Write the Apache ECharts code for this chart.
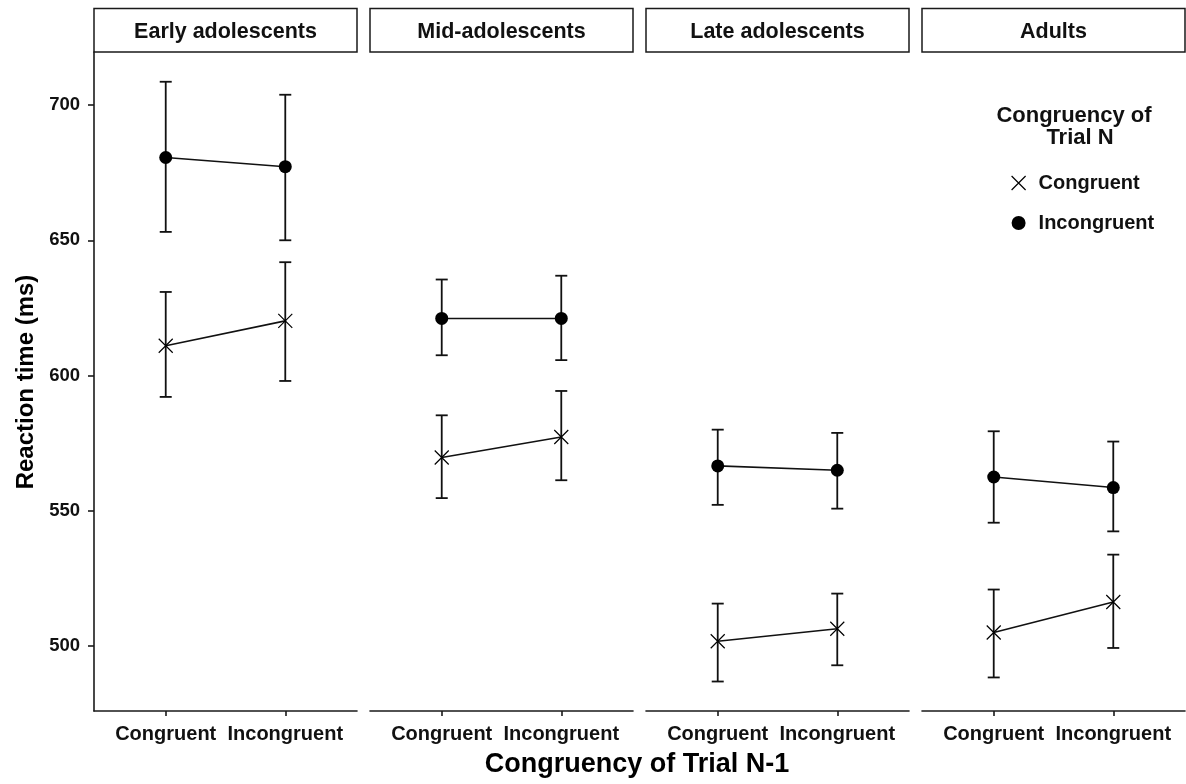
<!DOCTYPE html>
<html>
<head>
<meta charset="utf-8">
<script src="https://cdn.jsdelivr.net/npm/echarts@6/dist/echarts.min.js"></script>
<style>html,body{margin:0;padding:0;background:#fff;}#c{width:1186px;height:784px;}</style>
</head>
<body>
<div id="c"></div>
<script>
// ---- data ----
var groups = ['Early adolescents', 'Mid-adolescents', 'Late adolescents', 'Adults'];
var prevCats = ['Congruent', 'Incongruent'];
var yTicks = [500, 550, 600, 650, 700];
// Congruent trial N (cross)
var congMean = [[611.0, 620.2], [569.7, 577.3], [501.8, 506.4], [505.0, 516.3]];
var congLow  = [[592.1, 598.0], [554.7, 561.3], [486.9, 492.9], [488.4, 499.3]];
var congHigh = [[630.9, 641.9], [585.3, 594.3], [515.7, 519.4], [520.9, 533.8]];
// Incongruent trial N (dot)
var incMean = [[680.6, 677.2], [621.1, 621.1], [566.6, 565.0], [562.5, 558.6]];
var incLow  = [[653.1, 650.0], [607.5, 605.7], [552.2, 550.8], [545.6, 542.4]];
var incHigh = [[708.6, 703.8], [635.5, 636.9], [580.0, 578.8], [579.4, 575.6]];

// ---- layout ----
var FONT = 'Liberation Sans';
var panelLeft = 94, panelW = 263, panelGap = 13, panelTop = 52, panelBottom = 711;
var crossPath = 'path://M0,0L10,10M10,0L0,10';
var AX = '#1a1a1a';

var grids = [], xAxes = [], yAxes = [], series = [], graphics = [];

function errRender(params, api) {
  var x = api.value(0);
  var lo = api.coord([x, api.value(1)]);
  var hi = api.coord([x, api.value(2)]);
  var w = 6;
  var st = { stroke: '#111', lineWidth: 1.8 };
  return {
    type: 'group',
    children: [
      { type: 'line', shape: { x1: lo[0], y1: lo[1], x2: hi[0], y2: hi[1] }, style: st },
      { type: 'line', shape: { x1: lo[0] - w, y1: lo[1], x2: lo[0] + w, y2: lo[1] }, style: st },
      { type: 'line', shape: { x1: hi[0] - w, y1: hi[1], x2: hi[0] + w, y2: hi[1] }, style: st }
    ]
  };
}

groups.forEach(function (g, i) {
  var left = panelLeft + i * (panelW + panelGap);
  grids.push({ left: left, top: panelTop, width: panelW, height: panelBottom - panelTop, containLabel: false });
  xAxes.push({
    type: 'value', gridIndex: i, min: 0.4, max: 2.6,
    splitLine: { show: false },
    axisLine: { show: true, lineStyle: { color: AX, width: 1.6 } },
    axisTick: { show: true, customValues: [1, 2], length: 5, lineStyle: { color: AX, width: 1.6 } },
    axisLabel: {
      customValues: [1, 2], margin: 13,
      formatter: function (v) { return prevCats[Math.round(v) - 1]; },
      fontFamily: FONT, fontWeight: 'bold', fontSize: 20, color: '#111'
    }
  });
  yAxes.push({
    type: 'value', gridIndex: i, min: 476, max: 719.6,
    show: i === 0,
    splitLine: { show: false },
    axisLine: { show: true, lineStyle: { color: AX, width: 1.6 } },
    axisTick: { show: true, customValues: yTicks, length: 6, lineStyle: { color: AX, width: 1.6 } },
    axisLabel: { customValues: yTicks, margin: 14, fontFamily: FONT, fontWeight: 'bold', fontSize: 18.5, color: '#111' }
  });

  // error bars
  series.push({
    type: 'custom', name: 'err-c-' + i, xAxisIndex: i, yAxisIndex: i,
    renderItem: errRender, silent: true, z: 1,
    data: prevCats.map(function (c, k) { return [k + 1, congLow[i][k], congHigh[i][k]]; })
  });
  series.push({
    type: 'custom', name: 'err-i-' + i, xAxisIndex: i, yAxisIndex: i,
    renderItem: errRender, silent: true, z: 1,
    data: prevCats.map(function (c, k) { return [k + 1, incLow[i][k], incHigh[i][k]]; })
  });
  // lines + points
  series.push({
    type: 'line', name: 'Congruent', xAxisIndex: i, yAxisIndex: i, z: 3,
    symbol: crossPath, symbolSize: 14,
    itemStyle: { color: '#000', borderColor: '#000', borderWidth: 1.2 },
    lineStyle: { color: '#111', width: 1.6 },
    data: prevCats.map(function (c, k) { return [k + 1, congMean[i][k]]; })
  });
  series.push({
    type: 'line', name: 'Incongruent', xAxisIndex: i, yAxisIndex: i, z: 3,
    symbol: 'circle', symbolSize: 13,
    itemStyle: { color: '#000', borderWidth: 0 },
    lineStyle: { color: '#111', width: 1.6 },
    data: prevCats.map(function (c, k) { return [k + 1, incMean[i][k]]; })
  });

  // strip
  graphics.push({
    type: 'rect', shape: { x: left, y: 8.5, width: panelW, height: panelTop - 8.5 },
    style: { fill: '#fff', stroke: AX, lineWidth: 1.5 }
  });
  graphics.push({
    type: 'text', x: left + panelW / 2, y: 32,
    style: { text: g, textAlign: 'center', textVerticalAlign: 'middle', font: 'bold 21.5px "' + FONT + '"', fill: '#111' }
  });
});

// axis titles
graphics.push({
  type: 'text', x: 26, y: 382, rotation: Math.PI / 2,
  style: { text: 'Reaction time (ms)', textAlign: 'center', textVerticalAlign: 'middle', font: 'bold 24px "' + FONT + '"', fill: '#000' }
});
graphics.push({
  type: 'text', x: 637, y: 765,
  style: { text: 'Congruency of Trial N-1', textAlign: 'center', textVerticalAlign: 'middle', font: 'bold 27px "' + FONT + '"', fill: '#000' }
});
// legend title
graphics.push({
  type: 'text', x: 1074, y: 116,
  style: { text: 'Congruency of', textAlign: 'center', textVerticalAlign: 'middle', font: 'bold 22px "' + FONT + '"', fill: '#111' }
});
graphics.push({
  type: 'text', x: 1080, y: 138,
  style: { text: 'Trial N', textAlign: 'center', textVerticalAlign: 'middle', font: 'bold 22px "' + FONT + '"', fill: '#111' }
});

var chart = echarts.init(document.getElementById('c'), null, { renderer: 'canvas' });
chart.setOption({
  animation: false,
  backgroundColor: '#fff',
  grid: grids,
  xAxis: xAxes,
  yAxis: yAxes,
  legend: {
    orient: 'vertical', left: 1006, top: 168, itemWidth: 14, itemHeight: 14, itemGap: 20,
    selectedMode: false,
    textStyle: { fontFamily: FONT, fontWeight: 'bold', fontSize: 20, color: '#111', padding: [0, 0, 0, 8], lineHeight: 20 },
    data: [
      { name: 'Congruent', icon: crossPath, itemStyle: { color: '#000', borderColor: '#000', borderWidth: 1.2 } },
      { name: 'Incongruent', icon: 'circle', itemStyle: { color: '#000', borderWidth: 0 } }
    ]
  },
  graphic: graphics,
  series: series
});
</script>
</body>
</html>
